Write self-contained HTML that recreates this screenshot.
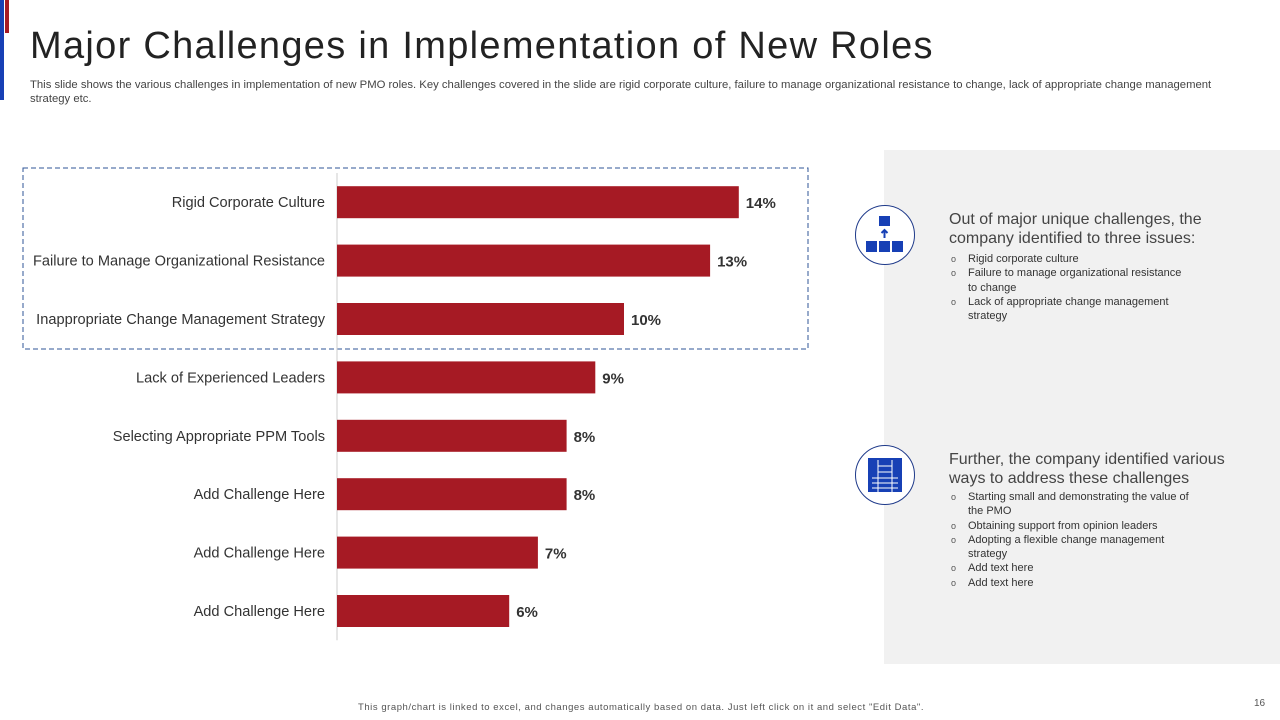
<!DOCTYPE html>
<html><head><meta charset="utf-8">
<style>
body{margin:0;width:1280px;height:720px;position:relative;background:#fff;font-family:"Liberation Sans",sans-serif;overflow:hidden}
.abs{position:absolute}
.title{left:30px;top:25px;font-size:38px;color:#222;letter-spacing:1.3px;white-space:nowrap}
.sub{left:30px;top:79px;width:1200px;font-size:11.3px;color:#444;line-height:13.5px}
.panel{left:884px;top:150px;width:396px;height:514px;background:#f1f1f1}
.circle{width:58px;height:58px;border:1.5px solid #1f3a8a;border-radius:50%;background:#fff}
.head{font-size:16px;color:#444;line-height:19px;width:310px}
ul{margin:0;padding:0;list-style:none;font-size:11px;color:#333;line-height:14.3px}
li{position:relative;padding-left:19px;width:222px}
li:before{content:"o";position:absolute;left:2px;font-size:9px;color:#555}
</style></head><body>
<div class="abs" style="left:0;top:0;width:4px;height:100px;background:#1740b5"></div>
<div class="abs" style="left:5px;top:0;width:4px;height:33px;background:#a61a24"></div>
<div class="abs title">Major Challenges in Implementation of New Roles</div>
<div class="abs sub">This slide shows the various challenges in implementation of new PMO roles. Key challenges covered in the slide are rigid corporate culture, failure to manage organizational resistance to change, lack of appropriate change management strategy etc.</div>
<svg class="abs" style="left:0;top:0" width="880" height="720" id="chart"></svg>
<div class="abs panel"></div>
<div class="abs circle" style="left:855px;top:205px">
<svg width="58" height="58"><rect x="23" y="10" width="11" height="10" fill="#1740b5"/><path d="M28.5 24v8M25.5 27l3-3 3 3" stroke="#1740b5" stroke-width="2" fill="none"/><rect x="10" y="35" width="11" height="11" fill="#1740b5"/><rect x="23" y="35" width="11" height="11" fill="#1740b5"/><rect x="36" y="35" width="11" height="11" fill="#1740b5"/></svg></div>
<div class="abs head" style="left:949px;top:210px">Out of major unique challenges, the company identified to three issues:</div>
<ul class="abs" style="left:949px;top:252px">
<li>Rigid corporate culture</li><li>Failure to manage organizational resistance to change</li><li>Lack of appropriate change management strategy</li></ul>
<div class="abs circle" style="left:855px;top:445px">
<svg width="58" height="58"><rect x="12" y="12" width="34" height="34" fill="#1740b5"/><g stroke="#fff" stroke-width="1"><path d="M22 14v32M36 14v32M16 32h26M16 37h26M16 42h26M22 20h14M22 26h14"/></g></svg></div>
<div class="abs head" style="left:949px;top:450px">Further, the company identified various ways to address these challenges</div>
<ul class="abs" style="left:949px;top:490px">
<li>Starting small and demonstrating the value of the PMO</li><li>Obtaining support from opinion leaders</li><li>Adopting a flexible change management strategy</li><li>Add text here</li><li>Add text here</li></ul>
<div class="abs" style="left:358px;top:702px;font-size:9.5px;color:#555;white-space:nowrap;letter-spacing:0.55px">This graph/chart is linked to excel, and changes automatically based on data. Just left click on it and select "Edit Data".</div>
<div class="abs" style="left:1254px;top:698px;font-size:10px;color:#555">16</div>
<script>
const categories=["Rigid Corporate Culture","Failure to Manage Organizational Resistance","Inappropriate Change Management Strategy","Lack of Experienced Leaders","Selecting Appropriate PPM Tools","Add Challenge Here","Add Challenge Here","Add Challenge Here"];
const values=[14,13,10,9,8,8,7,6];
const labels=["14%","13%","10%","9%","8%","8%","7%","6%"];
const NS="http://www.w3.org/2000/svg";
const svg=document.getElementById('chart');
const x0=337,pxPer=28.7,yTop=173,band=58.4,barH=32;
const xs=v=>x0+v*pxPer;
const yc=i=>yTop+band*i+band/2;
function mk(t,a){const e=document.createElementNS(NS,t);for(const k in a)e.setAttribute(k,a[k]);svg.appendChild(e);return e;}
const box=mk('rect',{x:23,y:168,width:785,height:181,fill:'none',stroke:'#2f5597','stroke-dasharray':'5,3','stroke-width':1});


const ax=mk('line',{x1:x0,x2:x0,y1:yTop,y2:yTop+band*categories.length,stroke:'#ccc'});


categories.forEach((c,i)=>{
 const r=mk('rect',{x:x0,y:yc(i)-barH/2,width:xs(values[i])-x0,height:barH,fill:'#a61a24'});
 
 
 const t=mk('text',{x:325,y:yc(i)+5,'text-anchor':'end','font-size':14.6,fill:'#333','font-family':'Liberation Sans, sans-serif'});
 t.textContent=c;
 
 
 const v=mk('text',{x:xs(values[i])+7,y:yc(i)+6,'font-size':15,'font-weight':'bold',fill:'#333','font-family':'Liberation Sans, sans-serif'});
 v.textContent=labels[i];
 
 
});
</script>
</body></html>
